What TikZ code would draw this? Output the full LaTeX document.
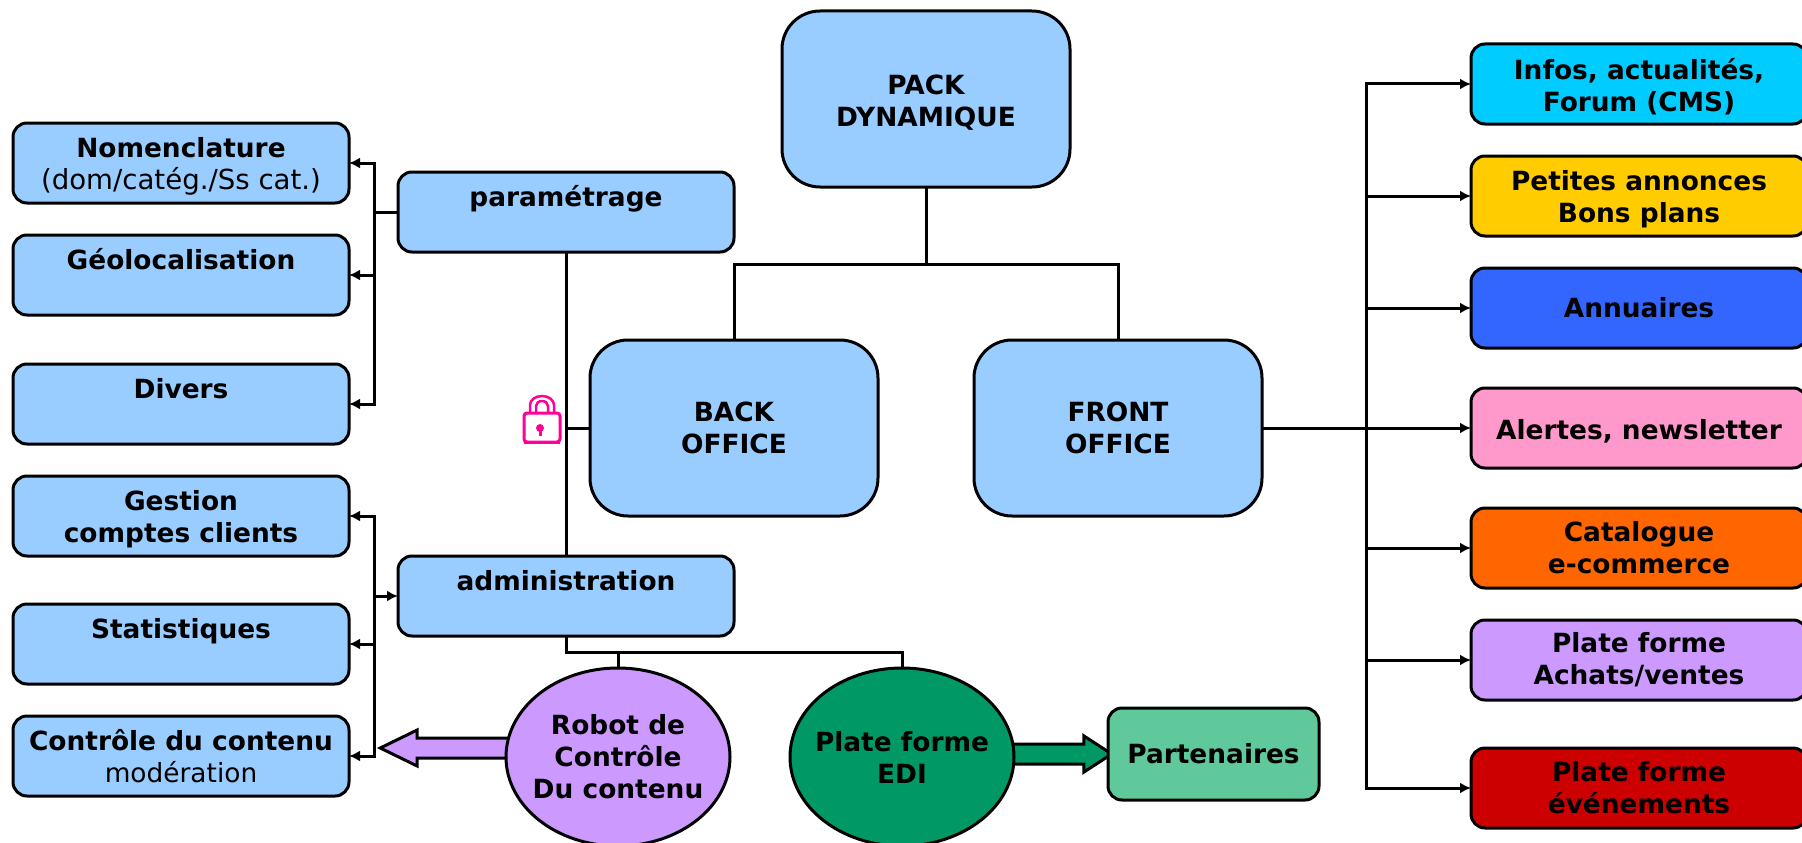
\documentclass[tikz,border=0pt]{standalone}
\usepackage{fontspec}
\setmainfont{DejaVu Sans}
\usepackage{xcolor}
\definecolor{skyblue}{HTML}{99CCFF}
\definecolor{cyanbox}{HTML}{00CCFF}
\definecolor{yellowbox}{HTML}{FFCC00}
\definecolor{bluebox}{HTML}{3366FF}
\definecolor{pinkbox}{HTML}{FF99CC}
\definecolor{orangebox}{HTML}{FF6600}
\definecolor{purplebox}{HTML}{CC99FF}
\definecolor{redbox}{HTML}{CC0000}
\definecolor{greenbox}{HTML}{009966}
\definecolor{palegreen}{HTML}{60C99C}
\definecolor{lockpink}{HTML}{FF0099}
\usepackage{tikz}
\usetikzlibrary{shapes.geometric,shapes.arrows,arrows.meta}
\tikzset{
    base/.style={draw,line width=3pt,align=center,inner sep=0pt,outer sep=0pt,font=\fontsize{26.4}{32}\selectfont\bfseries},
    smallbox/.style={base,rectangle,rounded corners=14pt,minimum width=336pt,minimum height=80pt},
    midbox/.style={smallbox,fill=skyblue},
    bigbox/.style={base,rectangle,rounded corners=38pt,fill=skyblue,minimum width=288pt,minimum height=176pt},
    robotshape/.style={base,ellipse,inner sep=-25pt,minimum width=224pt,minimum height=178pt},
    link/.style={-,line width=3pt},
    arr/.style={-{Latex[length=11pt,width=11pt]},line width=3pt},
    blockarr/.style={draw,line width=3pt,single arrow,inner sep=0pt,text width=0pt,text height=8.5pt,text depth=8.5pt,single arrow head extend=8pt}
}
\newcommand{\thin}[1]{{\mdseries\fontsize{27.6}{32}\selectfont #1}}
\newcommand{\nudge}{\rule{0pt}{26pt}}

\begin{document}
\begin{tikzpicture}[x=1pt,y=-1pt]
        \useasboundingbox (0,0) rectangle (1802,843);

        \node[blockarr,fill=purplebox,shape border rotate=180,minimum height=129pt,single arrow tip angle=52] (robotarr) at (455,748) {};
        \node[blockarr,fill=greenbox,minimum height=104pt,single arrow tip angle=66] (ediarr) at (1052,754) {};

        \node[bigbox] (pack) at (926,99) {\nudge PACK\\DYNAMIQUE};
        \node[bigbox] (back) at (734,428) {BACK\\OFFICE};
        \node[bigbox] (front) at (1118,428) {FRONT\\OFFICE};

        \node[midbox] (nomen) at (181,163) {\nudge Nomenclature\\\thin{(dom/catég./Ss cat.)}};
        \node[midbox] (geoloc) at (181,275) {Géolocalisation\\~};
        \node[midbox] (divers) at (181,404) {Divers\\~};
        \node[midbox] (gestion) at (181,516) {\nudge Gestion\\comptes clients};
        \node[midbox] (stats) at (181,644) {Statistiques\\~};
        \node[midbox] (controle) at (181,756) {Contrôle du contenu\\\mdseries modération};

        \node[midbox] (param) at (566,212) {paramétrage\\~};
        \node[midbox] (admin) at (566,596) {administration\\~};

        \node[smallbox,fill=cyanbox] (infos) at (1639,84) {\nudge Infos, actualités,\\Forum (CMS)};
        \node[smallbox,fill=yellowbox] (annonces) at (1639,196) {\nudge Petites annonces\\Bons plans};
        \node[smallbox,fill=bluebox] (annuaires) at (1639,308) {Annuaires};
        \node[smallbox,fill=pinkbox] (alertes) at (1639,428) {\nudge Alertes, newsletter};
        \node[smallbox,fill=orangebox] (catalogue) at (1639,548) {Catalogue\\e-commerce};
        \node[smallbox,fill=purplebox] (achats) at (1639,660) {Plate forme\\Achats/ventes};
        \node[smallbox,fill=redbox] (events) at (1639,788) {Plate forme\\événements};

        \node[robotshape,fill=purplebox] (robot) at (618,757) {Robot de\\Contrôle\\Du contenu};
        \node[robotshape,fill=greenbox] (edi) at (902,757) {Plate forme\\EDI};
        \node[base,rectangle,rounded corners=14pt,fill=palegreen,minimum width=211pt,minimum height=92pt] (partners) at (1213.5,754) {Partenaires};

        \coordinate (packj) at (926,264);
        \coordinate (busp) at (374,212);
        \coordinate (busa) at (374,596);
        \coordinate (adminj) at (618,652);
        \coordinate (busf) at (1366,428);

        \draw[link] (pack.south) -- (packj);
        \draw[link] (back.north) |- (packj) -| (front.north);
        \draw[link] (param.south) -- (admin.north);
        \draw[link] (back.west) -- (back.west -| param.south);
        \draw[link] (admin.south) |- (adminj) -| (edi.north);
        \draw[link] (robot.north) -- (adminj);

        \draw[link] (param.west) -- (busp);
        \draw[arr] (busp) |- (nomen.east);
        \draw[arr] (busp) |- (geoloc.east);
        \draw[arr] (busp) |- (divers.east);

        \draw[arr] (busa) -- (admin.west);
        \draw[arr] (busa) |- (gestion.east);
        \draw[arr] (busa) |- (stats.east);
        \draw[arr] (busa) |- (controle.east);

        \draw[link] (front.east) -- (busf);
        \draw[arr] (busf) |- (infos.west);
        \draw[arr] (busf) |- (annonces.west);
        \draw[arr] (busf) |- (annuaires.west);
        \draw[arr] (busf) -- (alertes.west);
        \draw[arr] (busf) |- (catalogue.west);
        \draw[arr] (busf) |- (achats.west);
        \draw[arr] (busf) |- (events.west);

        \draw[lockpink,line width=3pt,fill=white,rounded corners=3pt] (524,413) rectangle (560,442);
        \draw[lockpink,line width=3pt] (524,442) -- (560,442);
        \draw[lockpink,line width=2.5pt] (530,413) -- (530,405) arc[start angle=180,end angle=0,x radius=12pt,y radius=9pt] -- (554,413);
        \draw[lockpink,line width=2.5pt] (536,413) -- (536,406) arc[start angle=180,end angle=0,x radius=6pt,y radius=5pt] -- (548,413);
        \fill[lockpink] (540,428) circle[radius=4pt];
        \fill[lockpink] (538.5,428) rectangle (541.5,436);
    \end{tikzpicture}
\end{document}
